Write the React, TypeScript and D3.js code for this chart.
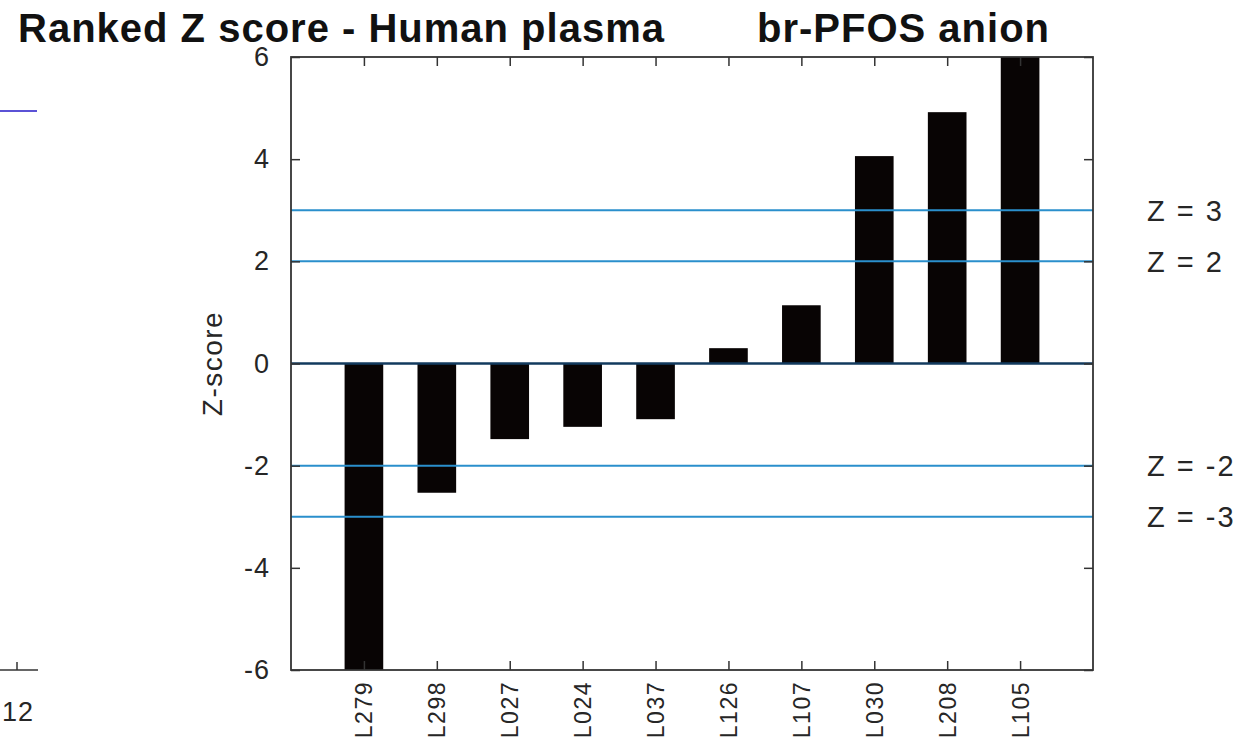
import React, { useEffect, useRef } from "react";
import * as d3 from "d3";

const labs = ["L279", "L298", "L027", "L024", "L037", "L126", "L107", "L030", "L208", "L105"];
const zScores = [-6.3, -2.53, -1.48, -1.24, -1.09, 0.3, 1.14, 4.06, 4.92, 6.2];
const yTicks = [-6, -4, -2, 0, 2, 4, 6];
const limitLines = [3, 2, -2, -3];
const limitLabels = ["Z = 3", "Z = 2", "Z = -2", "Z = -3"];

const W = 1256;
const H = 740;

const App: React.FC = () => {
  const svgRef = useRef<SVGSVGElement>(null);

  useEffect(() => {
    if (!svgRef.current) return;
    const root = d3.select(svgRef.current);
    root.selectAll("*").remove();

    const left = 291, right = 1093, top = 57, bottom = 670;
    const font = "'Liberation Sans', Arial, sans-serif";
    const ink = "#262626";

    const x = d3.scaleLinear().domain([0, labs.length + 1]).range([left, right]);
    const y = d3.scaleLinear().domain([-6, 6]).range([bottom, top]);
    const barW = x(0.53) - x(0);

    root.append("rect").attr("width", W).attr("height", H).attr("fill", "#fff");

    // leftovers of the neighbouring chart
    root.append("line").attr("x1", 0).attr("x2", 37).attr("y1", 111).attr("y2", 111)
      .attr("stroke", "#5b52d6").attr("stroke-width", 2);
    root.append("line").attr("x1", 0).attr("x2", 38).attr("y1", 670).attr("y2", 670)
      .attr("stroke", "#333").attr("stroke-width", 1.5);
    root.append("line").attr("x1", 17).attr("x2", 17).attr("y1", 662).attr("y2", 670)
      .attr("stroke", "#333").attr("stroke-width", 1.5);
    root.append("text").attr("x", 18).attr("y", 721).attr("text-anchor", "middle")
      .attr("font-family", font).attr("font-size", 27).attr("letter-spacing", 1).attr("fill", ink).text("12");

    // titles
    root.append("text").attr("x", 18).attr("y", 42).attr("font-family", font)
      .attr("font-size", 40).attr("font-weight", "bold").attr("letter-spacing", 1).attr("fill", "#111")
      .text("Ranked Z score - Human plasma");
    root.append("text").attr("x", 757).attr("y", 42).attr("font-family", font)
      .attr("font-size", 40).attr("font-weight", "bold").attr("letter-spacing", 1).attr("fill", "#111")
      .text("br-PFOS anion");

    root.append("clipPath").attr("id", "plotclip").append("rect")
      .attr("x", left).attr("y", top).attr("width", right - left).attr("height", bottom - top);

    const plot = root.append("g").attr("clip-path", "url(#plotclip)");

    plot.selectAll("rect.bar").data(zScores).enter().append("rect")
      .attr("class", "bar")
      .attr("x", (_, i) => x(i + 1) - barW / 2)
      .attr("width", barW)
      .attr("y", (d) => y(Math.max(0, d)))
      .attr("height", (d) => Math.abs(y(d) - y(0)))
      .attr("fill", "#080404");

    plot.selectAll("line.lim").data(limitLines).enter().append("line")
      .attr("class", "lim")
      .attr("x1", left).attr("x2", right)
      .attr("y1", (d) => y(d)).attr("y2", (d) => y(d))
      .attr("stroke", "#2a8fcc").attr("stroke-width", 2);

    plot.append("line").attr("x1", left).attr("x2", right)
      .attr("y1", y(0)).attr("y2", y(0))
      .attr("stroke", "#123a5e").attr("stroke-width", 2.5);

    // axes
    const catTicks = labs.map((_, i) => i + 1);
    const styleAxis = (g: d3.Selection<SVGGElement, unknown, null, undefined>) => {
      g.selectAll(".domain").remove();
      g.selectAll(".tick line").attr("stroke", "#333").attr("stroke-width", 1.5);
      g.selectAll("text").attr("font-family", font).attr("fill", ink);
    };

    root.append("g").attr("transform", `translate(${left},0)`)
      .call(d3.axisRight(y).tickValues(yTicks).tickSize(9).tickFormat(() => ""))
      .call(styleAxis);
    root.append("g").attr("transform", `translate(${right},0)`)
      .call(d3.axisLeft(y).tickValues(yTicks).tickSize(9).tickFormat(() => ""))
      .call(styleAxis);
    root.append("g").attr("transform", `translate(${left},0)`)
      .call(d3.axisLeft(y).tickValues(yTicks).tickSize(0).tickPadding(21).tickFormat((d) => String(d)))
      .call(styleAxis)
      .selectAll("text").attr("font-size", 27).attr("letter-spacing", 1);
    root.append("g").attr("transform", `translate(0,${top})`)
      .call(d3.axisBottom(x).tickValues(catTicks).tickSize(9).tickFormat(() => ""))
      .call(styleAxis);
    const xb = root.append("g").attr("transform", `translate(0,${bottom})`)
      .call(d3.axisTop(x).tickValues(catTicks).tickSize(9).tickFormat(() => ""))
      .call(styleAxis);
    xb.selectAll(".tick").append("text")
      .attr("transform", "rotate(-90)")
      .attr("x", -11).attr("y", 0).attr("dy", "0.35em")
      .attr("text-anchor", "end")
      .attr("font-family", font).attr("font-size", 23).attr("letter-spacing", 1.5).attr("fill", ink)
      .text((d) => labs[(d as number) - 1]);

    root.append("rect").attr("x", left).attr("y", top).attr("width", right - left)
      .attr("height", bottom - top).attr("fill", "none").attr("stroke", "#333").attr("stroke-width", 1.8);

    root.append("text").attr("transform", `translate(222,${y(0)}) rotate(-90)`)
      .attr("text-anchor", "middle").attr("font-family", font).attr("font-size", 28)
      .attr("letter-spacing", 1.5).attr("fill", ink).text("Z-score");

    root.selectAll("text.limlab").data(limitLines).enter().append("text")
      .attr("class", "limlab")
      .attr("x", 1147).attr("y", (d) => y(d)).attr("dy", "0.36em")
      .attr("font-family", font).attr("font-size", 29).attr("letter-spacing", 2).attr("fill", ink)
      .text((_, i) => limitLabels[i]);
  }, []);

  return (
    <svg ref={svgRef} width={W} height={H}
      style={{ position: "absolute", left: 0, top: 0, display: "block" }} />
  );
};

export default App;
